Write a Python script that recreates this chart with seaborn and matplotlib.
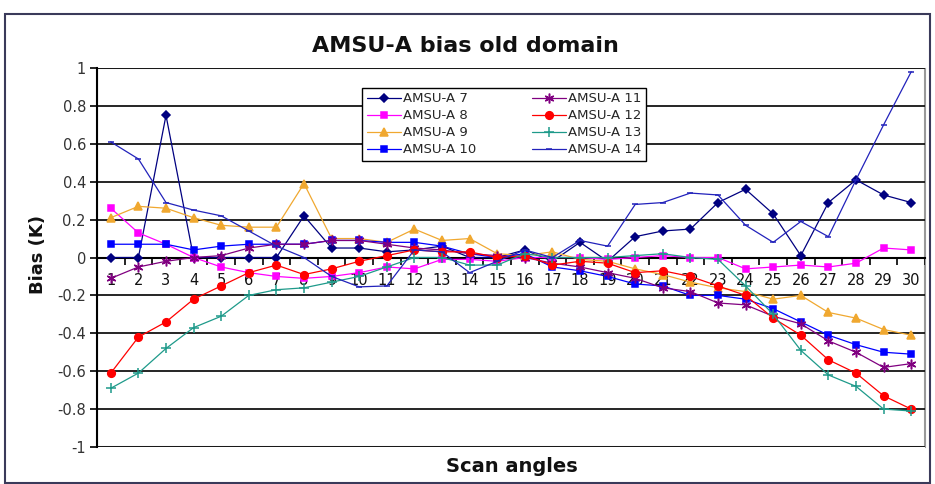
import matplotlib
matplotlib.use("Agg")
import matplotlib.pyplot as plt
import seaborn as sns
from matplotlib.patches import Rectangle
from matplotlib.ticker import MultipleLocator, FixedLocator

scan_angles = list(range(1, 31))

amsu_a7 = [0.00, 0.00, 0.75, 0.00, 0.00, 0.00, 0.00, 0.22, 0.05, 0.05,
           0.03, 0.04, 0.06, 0.00, 0.00, 0.04, -0.02, 0.08, -0.02, 0.11,
           0.14, 0.15, 0.29, 0.36, 0.23, 0.01, 0.29, 0.41, 0.33, 0.29]
amsu_a8 = [0.26, 0.13, 0.07, 0.00, -0.05, -0.08, -0.10, -0.11, -0.10, -0.08,
           -0.05, -0.06, -0.01, -0.01, -0.02, 0.00, 0.00, 0.00, -0.01, 0.00,
           0.01, 0.00, 0.00, -0.06, -0.05, -0.04, -0.05, -0.03, 0.05, 0.04]
amsu_a9 = [0.21, 0.27, 0.26, 0.21, 0.17, 0.16, 0.16, 0.39, 0.10, 0.10,
           0.08, 0.15, 0.09, 0.10, 0.02, 0.01, 0.03, -0.01, -0.02, -0.06,
           -0.09, -0.13, -0.16, -0.18, -0.22, -0.20, -0.29, -0.32, -0.38, -0.41]
amsu_a10 = [0.07, 0.07, 0.07, 0.04, 0.06, 0.07, 0.07, 0.07, 0.09, 0.09,
            0.08, 0.08, 0.06, 0.02, 0.00, 0.02, -0.05, -0.07, -0.10, -0.14,
            -0.15, -0.20, -0.20, -0.22, -0.27, -0.34, -0.41, -0.46, -0.50, -0.51]
amsu_a11 = [-0.11, -0.05, -0.02, 0.00, 0.01, 0.05, 0.07, 0.07, 0.09, 0.09,
            0.07, 0.05, 0.04, 0.02, 0.01, 0.00, -0.03, -0.05, -0.08, -0.11,
            -0.16, -0.18, -0.24, -0.25, -0.31, -0.35, -0.44, -0.50, -0.58, -0.56]
amsu_a12 = [-0.61, -0.42, -0.34, -0.22, -0.15, -0.08, -0.04, -0.09, -0.06, -0.02,
            0.01, 0.04, 0.03, 0.03, 0.00, 0.01, -0.04, -0.02, -0.03, -0.08,
            -0.07, -0.10, -0.15, -0.20, -0.32, -0.41, -0.54, -0.61, -0.73, -0.80]
amsu_a13 = [-0.69, -0.61, -0.48, -0.37, -0.31, -0.20, -0.17, -0.16, -0.13, -0.10,
            -0.05, 0.00, 0.00, -0.04, -0.04, 0.02, 0.00, 0.00, 0.00, 0.01,
            0.02, 0.00, -0.01, -0.15, -0.30, -0.49, -0.62, -0.68, -0.80, -0.81]
amsu_a14 = [0.61, 0.52, 0.29, 0.25, 0.22, 0.14, 0.06, 0.00, -0.10, -0.155,
            -0.15, 0.04, 0.03, -0.08, -0.02, 0.04, 0.00, 0.09, 0.06, 0.28,
            0.29, 0.34, 0.33, 0.17, 0.08, 0.19, 0.11, 0.41, 0.70, 0.98]

series_names = ["AMSU-A 7", "AMSU-A 8", "AMSU-A 9", "AMSU-A 10",
                "AMSU-A 11", "AMSU-A 12", "AMSU-A 13", "AMSU-A 14"]
series_values = [amsu_a7, amsu_a8, amsu_a9, amsu_a10,
                 amsu_a11, amsu_a12, amsu_a13, amsu_a14]

# line colour, marker, marker size
styles = {
    "AMSU-A 7": ("#000080", "D", 4),
    "AMSU-A 8": ("#FF00FF", "s", 5),
    "AMSU-A 9": ("#F0A830", "^", 5.5),
    "AMSU-A 10": ("#0000FF", "s", 4.5),
    "AMSU-A 11": ("#800080", (6, 2, 0), 7),
    "AMSU-A 12": ("#FF0000", "o", 5.5),
    "AMSU-A 13": ("#1E9A8A", "+", 7),
    "AMSU-A 14": ("#2222BB", "_", 4.5),
}

sns.set_style("white")
plt.rcParams["font.family"] = ["DejaVu Sans"]

fig = plt.figure(figsize=(9.35, 4.84), dpi=100)
ax = fig.add_axes([97 / 935, 1 - 447 / 484, 828 / 935, 379 / 484])

for name, vals in zip(series_names, series_values):
    color, marker, ms = styles[name]
    sns.lineplot(x=scan_angles, y=vals, ax=ax, color=color, marker=marker,
                 markersize=ms, markeredgecolor=color, markeredgewidth=1.1,
                 linewidth=0.9, label=name, sort=False, errorbar=None, zorder=3)

ax.set_xlim(0.5, 30.5)
ax.set_ylim(-1, 1)

# horizontal gridlines
ax.yaxis.set_major_locator(MultipleLocator(0.2))
ax.grid(axis="y", color="black", linewidth=1.2)
ax.grid(axis="x", visible=False)

# category axis crosses at zero
ax.spines["bottom"].set_position(("data", 0))
ax.spines["bottom"].set_color("black")
ax.spines["bottom"].set_linewidth(1.5)
ax.spines["bottom"].set_zorder(2.5)
ax.spines["left"].set_color("black")
ax.spines["left"].set_linewidth(1.5)
ax.spines["top"].set_visible(False)
ax.spines["right"].set_color("#999999")
ax.add_patch(Rectangle((0, 0), 1, 1, transform=ax.transAxes, fill=False,
                       edgecolor="#999999", linewidth=1.5, zorder=0.5))

ax.set_xticks(scan_angles)
ax.set_xticklabels([str(s) for s in scan_angles])
ax.xaxis.set_minor_locator(FixedLocator([i + 0.5 for i in range(0, 31)]))
ax.tick_params(axis="x", which="major", length=0, pad=11, labelsize=10.5,
               labelcolor="#111111")
ax.tick_params(axis="x", which="minor", bottom=True, direction="out", length=5,
               width=1.2, color="black")
ax.tick_params(axis="y", left=True, direction="out", length=5, width=1.2,
               color="black", labelsize=10.5, labelcolor="#333333", pad=3)
ax.set_yticks([-1, -0.8, -0.6, -0.4, -0.2, 0, 0.2, 0.4, 0.6, 0.8, 1])
ax.set_yticklabels(["-1", "-0.8", "-0.6", "-0.4", "-0.2", "0",
                    "0.2", "0.4", "0.6", "0.8", "1"])

ax.set_xlabel("")
ax.set_ylabel("")
fig.text(512 / 935, 1 - 466 / 484, "Scan angles", ha="center", va="center",
         fontsize=14, fontweight="bold", color="#111111")
fig.text(38 / 935, 1 - 255 / 484, "Bias (K)", ha="center", va="center",
         rotation=90, fontsize=13, fontweight="bold", color="#111111")
fig.text(465 / 935, 1 - 46 / 484, "AMSU-A bias old domain", ha="center",
         va="center", fontsize=16, fontweight="bold", color="#111111")

leg = ax.legend(loc="upper left", bbox_to_anchor=(0.32, 0.948), ncol=2,
                fontsize=9.5, frameon=True, fancybox=False, edgecolor="black",
                framealpha=1, handlelength=2.6, handletextpad=0.15,
                borderpad=0.35, labelspacing=0.3, columnspacing=4.2,
                borderaxespad=0)
leg.get_frame().set_linewidth(1.0)
leg.set_zorder(5)

# outer chart frame
fig.add_artist(Rectangle((5 / 935, 1 / 484), 925 / 935, 469 / 484,
                         transform=fig.transFigure, fill=False,
                         edgecolor="#3a3a5a", linewidth=1.5))

fig.savefig("out.png", dpi=100)
